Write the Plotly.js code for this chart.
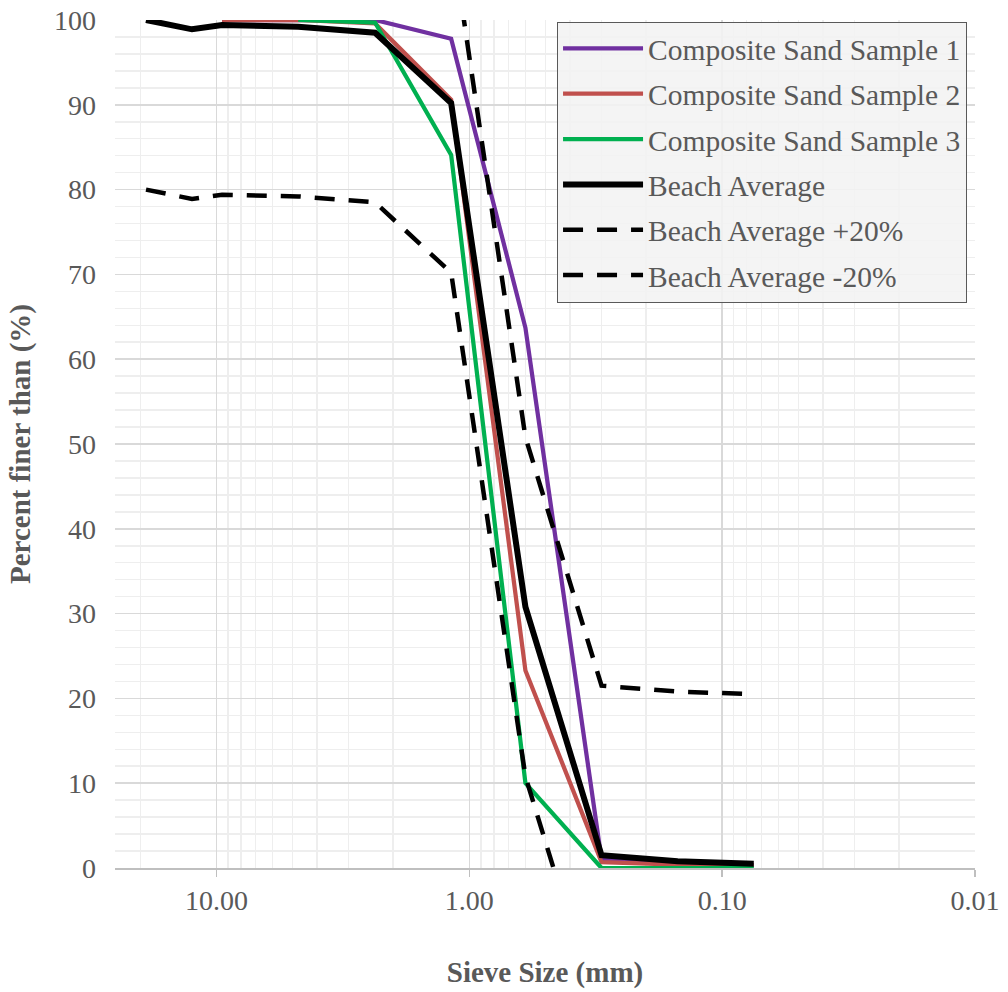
<!DOCTYPE html>
<html>
<head>
<meta charset="utf-8">
<script src="https://cdn.plot.ly/plotly-3.0.1.min.js"></script>
<style>html,body{margin:0;padding:0;background:#fff;}#chart{width:1008px;height:992px;}</style>
</head>
<body>
<div id="chart"></div>
<script>
// Sieve sizes (mm)
const sieveSizes = [19.0, 12.5, 9.5, 4.75, 2.36, 1.18, 0.6, 0.3, 0.15, 0.075];
const sampleSizes1 = [9.5, 4.75, 2.36, 1.18, 0.6, 0.3, 0.15, 0.075];
const sampleSizes2 = [9.5, 4.75, 2.36, 1.18, 0.6, 0.3, 0.15, 0.075];
const sampleSizes3 = [4.75, 2.36, 1.18, 0.6, 0.3, 0.15, 0.075];

// Percent finer than (%)
const sample1 = [100, 100, 100, 97.8, 63.7, 1.0, 0.5, 0.3];
const sample2 = [100, 100, 99.6, 90.6, 23.3, 0.7, 0.4, 0.3];
const sample3 = [100, 99.7, 84.1, 10.0, 0, 0, 0];
const beachAvg = [100, 98.9, 99.4, 99.2, 98.5, 90.2, 30.8, 1.5, 0.8, 0.5];
const beachPlus20 = [120, 118.9, 119.4, 119.2, 118.5, 110.2, 50.8, 21.5, 20.8, 20.5];
const beachMinus20 = [80, 78.9, 79.4, 79.2, 78.5, 70.2, 10.8, -18.5, -19.2, -19.5];

const xTickVals = [10, 1, 0.1, 0.01];
const yTickVals = [0, 10, 20, 30, 40, 50, 60, 70, 80, 90, 100];

const FONT = "'Liberation Serif', 'Times New Roman', serif";
const GREY = '#595959';

// minor log gridline positions (2..9 per decade)
const minorVals = [];
for (let e = -2; e <= 1; e++) {
  for (let m = 2; m <= 9; m++) minorVals.push(m * Math.pow(10, e));
}

function trace(name, x, y, color, width, dash, group) {
  return {
    type: 'scatter', mode: 'lines', name: name, x: x, y: y,
    legendgroup: group,
    line: {color: color, width: width, dash: dash || 'solid'},
    hoverinfo: 'x+y+name'
  };
}

const data = [
  trace('Composite Sand Sample 1', sampleSizes1, sample1, '#7030A0', 4.25, null, 'g1'),
  trace('Composite Sand Sample 2', sampleSizes2, sample2, '#C0504D', 4.25, null, 'g2'),
  trace('Composite Sand Sample 3', sampleSizes3, sample3, '#00B050', 4.25, null, 'g3'),
  trace('Beach Average', sieveSizes, beachAvg, '#000000', 6, null, 'g4'),
  trace('Beach Average +20%', sieveSizes, beachPlus20, '#000000', 4.5, '20px,14px', 'g5'),
  trace('Beach Average -20%', sieveSizes, beachMinus20, '#000000', 4.5, '20px,14px', 'g6')
];

const layout = {
  width: 1008, height: 992,
  margin: {l: 115, r: 33, t: 20, b: 124},
  paper_bgcolor: '#ffffff', plot_bgcolor: '#ffffff',
  font: {family: FONT, size: 28, color: GREY},
  showlegend: true,
  legend: {
    x: 0.514, y: 0.998, xanchor: 'left', yanchor: 'top',
    bgcolor: 'rgba(242,242,242,0.88)', bordercolor: GREY, borderwidth: 1,
    font: {family: FONT, size: 29.5, color: GREY},
    itemwidth: 80, tracegroupgap: 4
  },
  xaxis: {
    type: 'log', range: [Math.log10(25.2), -2],
    tickvals: xTickVals, tickformat: '.2f',
    showgrid: true, gridcolor: '#d9d9d9', gridwidth: 1.5,
    minor: {tickvals: minorVals, showgrid: true, gridcolor: '#eeeeee', gridwidth: 1.5, ticks: ''},
    showline: true, linecolor: '#bfbfbf', linewidth: 1.5,
    ticks: 'outside', ticklen: 7, tickcolor: '#bfbfbf', tickwidth: 1.5,
    zeroline: false,
    tickfont: {family: FONT, size: 28, color: GREY},
    title: {text: '<b>Sieve Size (mm)</b>', standoff: 46, font: {family: FONT, size: 29, color: GREY}},
    automargin: false
  },
  yaxis: {
    range: [0, 100], tickvals: yTickVals,
    showgrid: true, gridcolor: '#d9d9d9', gridwidth: 1.5,
    minor: {dtick: 2, showgrid: true, gridcolor: '#eeeeee', gridwidth: 1.5, ticks: ''},
    showline: false, zeroline: false, ticks: '',
    ticklabelstandoff: 18,
    tickfont: {family: FONT, size: 28, color: GREY},
    title: {text: '<b>Percent finer than (%)</b>', standoff: 14, font: {family: FONT, size: 29, color: GREY}},
    automargin: false
  }
};

Plotly.newPlot('chart', data, layout, {displayModeBar: false, staticPlot: true});
</script>
</body>
</html>
